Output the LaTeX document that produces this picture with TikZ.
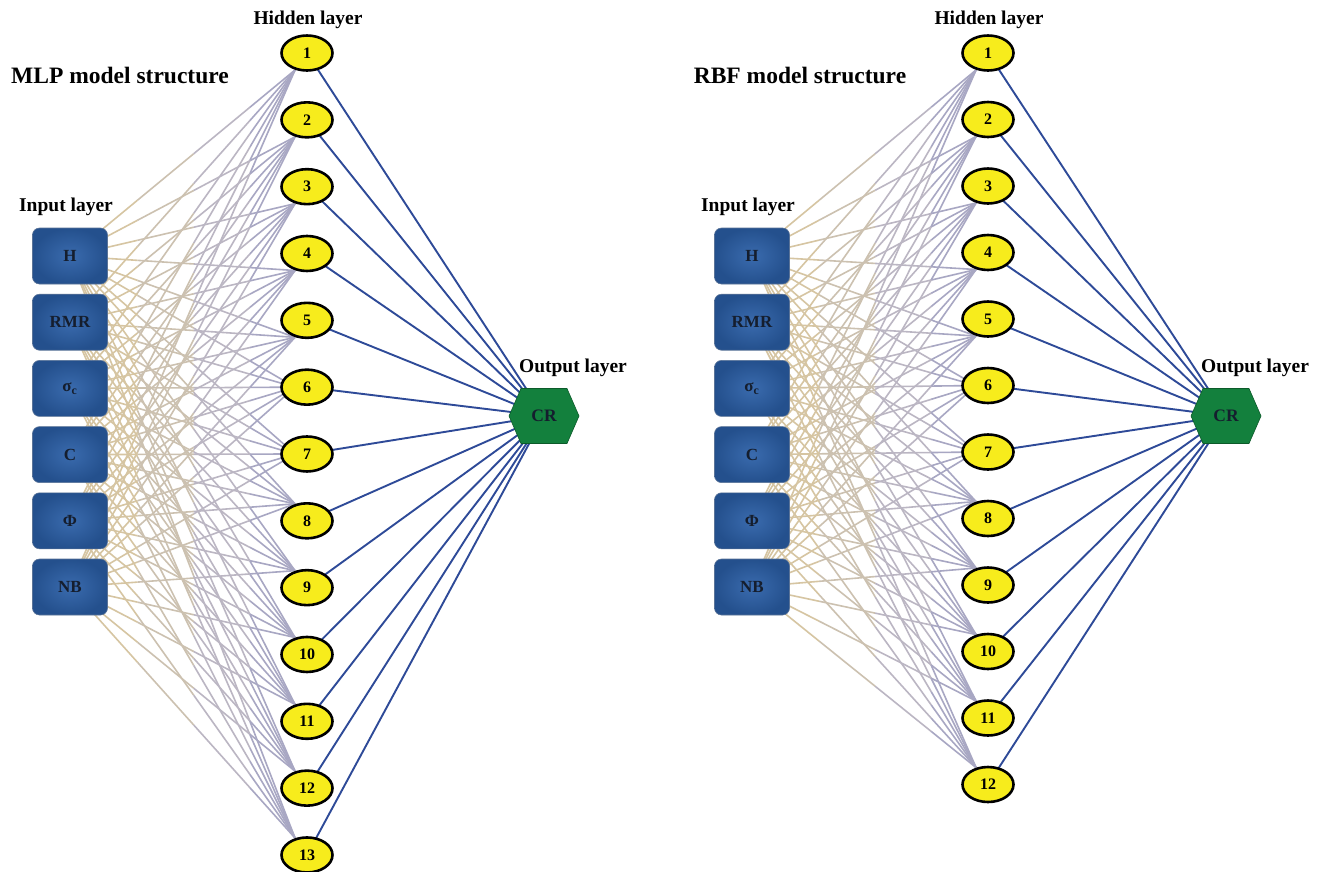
\documentclass[tikz,border=0pt]{standalone}
\usepackage{fontspec}
\setmainfont{Liberation Serif}
\usetikzlibrary{calc,shapes.geometric,backgrounds}
\definecolor{linA}{HTML}{D6C5A2}
\definecolor{linB}{HTML}{CCC1B0}
\definecolor{linC}{HTML}{BBB6C3}
\definecolor{linD}{HTML}{A8A7C3}
\definecolor{outln}{HTML}{2E4A98}
\definecolor{hidfill}{HTML}{F7EC1C}
\definecolor{boxin}{HTML}{3A6BAE}
\definecolor{boxout}{HTML}{24508D}
\definecolor{boxdraw}{HTML}{5A7397}
\definecolor{boxtext}{HTML}{151E2E}
\definecolor{hexfill}{HTML}{13803D}
\definecolor{hexdraw}{HTML}{0C5A2A}
\tikzset{
 inbox/.style={rectangle, rounded corners=7pt, minimum width=75pt, minimum height=56pt,
   inner color=boxin, outer color=boxout, draw=boxdraw, line width=0.6pt,
   font=\bfseries\fontsize{17}{17}\selectfont, text=boxtext},
 hid/.style={ellipse, minimum width=51pt, minimum height=35pt, fill=hidfill, draw=black,
   line width=2.6pt, font=\bfseries\fontsize{16}{16}\selectfont, inner sep=0pt},
 hexlbl/.style={font=\bfseries\fontsize{17.5}{17.5}\selectfont, text=boxtext, inner sep=0pt},
 ttl/.style={font=\bfseries\fontsize{23.5}{23.5}\selectfont},
 lbl/.style={font=\bfseries\fontsize{19.5}{19.5}\selectfont},
 hl/.style={outln, line width=1.9pt},
 il/.style={line width=1.6pt},
}
\newcommand\drawnet[8]{%
 \node[ttl] (title#1) at (#8,75) {#7};
 \node[lbl] (hidlbl#1) at (#3+1,20) {Hidden layer};
 \node[lbl] (inlbl#1) at (#2-4,207) {Input layer};
 \node[lbl] (outlbl#1) at (#6+29,368) {Output layer};
 \foreach \lab [count=\i from 0] in {H,RMR,{σ\textsubscript{c}},C,Φ,NB}
   \node[inbox] (in#1\i) at (#2,256+66.2*\i) {\lab};
 \foreach \j in {1,...,#4} {
   \node[hid] (h#1\j) at (#3,53+#5*\j-#5) {\j};
   \pgfmathsetmacro\dd{\j<6 ? 17 : (\j>7 ? -17 : 0)}
   \coordinate (t#1\j) at ($(h#1\j.center)+(-12,\dd)$);
 }
 \filldraw[fill=hexfill, draw=hexdraw, line width=0.6pt] (#6-35,416) -- (#6-23,388.5) -- (#6+23,388.5) -- (#6+35,416) -- (#6+23,443.5) -- (#6-23,443.5) -- cycle;
 \node[hexlbl] (out#1) at (#6,416) {CR};
 \begin{pgfonlayer}{background}
  \foreach \i in {0,...,5} {
   \foreach \j in {1,...,#4} {
    \foreach \a/\b/\c in {0/0.3/linA,0.3/0.55/linB,0.55/0.8/linC,0.8/1/linD}
     \draw[il,\c] ($(in#1\i.center)!\a!(t#1\j)$) -- ($(in#1\i.center)!\b!(t#1\j)$);
   }
  }
  \foreach \j in {1,...,#4} \draw[hl] (h#1\j.center) -- (out#1.center);
 \end{pgfonlayer}
}
\begin{document}
\begin{tikzpicture}[x=1pt,y=-1pt]
\useasboundingbox (0,0) rectangle (1322,871);
\begin{pgfonlayer}{background}
\fill[white] (0,0) rectangle (1322,871);
\end{pgfonlayer}
\drawnet{L}{70}{307}{13}{66.83}{544}{MLP model structure}{120}
\drawnet{R}{752}{988}{12}{66.5}{1226}{RBF model structure}{800}
\end{tikzpicture}
\end{document}
